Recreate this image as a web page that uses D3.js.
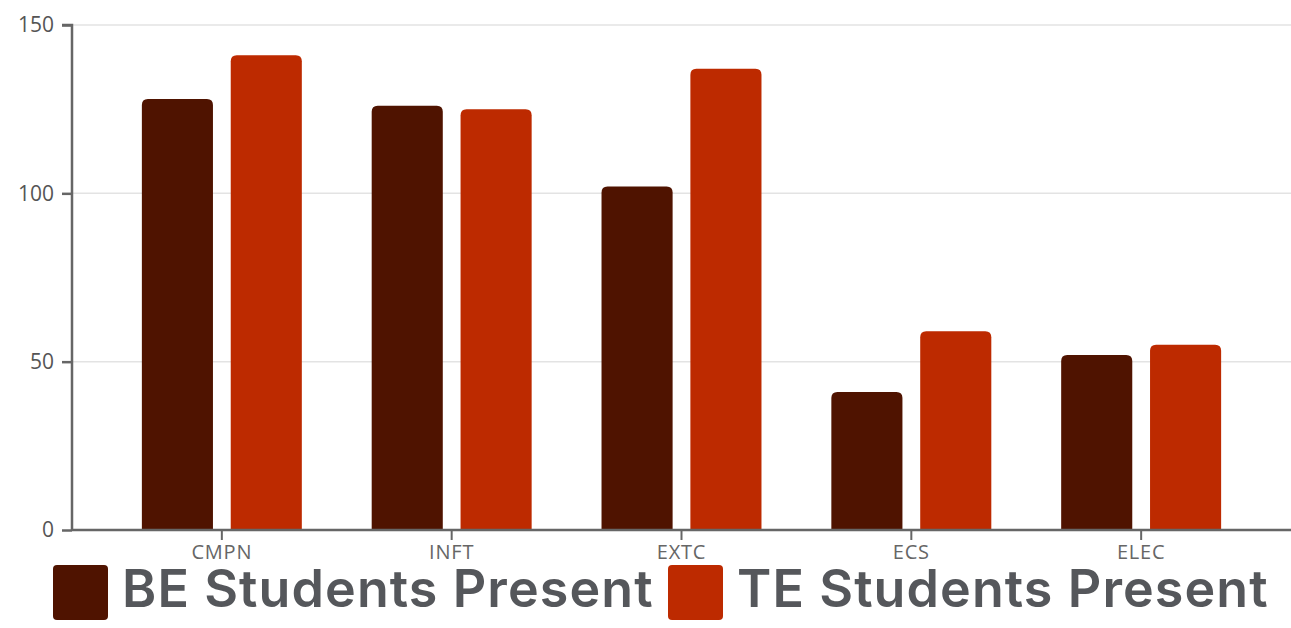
<!DOCTYPE html>
<html>
<head>
<meta charset="utf-8">
<script src="https://cdn.jsdelivr.net/npm/d3@7"></script>
<style>
  body { margin: 0; background: #fff; }
  svg { display: block; }
</style>
</head>
<body>
<div class="container"></div>
<script>
const categories = ["CMPN", "INFT", "EXTC", "ECS", "ELEC"];
const beValues = [128, 126, 102, 41, 52];
const teValues = [141, 125, 137, 59, 55];
const seriesNames = ["BE Students Present", "TE Students Present"];
const seriesColors = ["#4f1300", "#bd2a00"];
const yTicks = [0, 50, 100, 150];

const w = 1291;
const h = 628;

const svg = d3.select(".container")
  .append("svg")
  .attr("width", w)
  .attr("height", h);

const x = d3.scaleBand()
  .domain(categories)
  .range([72, 1291])
  .padding(0.304);

const xs = d3.scaleBand()
  .domain([0, 1])
  .range([0, x.bandwidth()])
  .paddingInner(0.2);

const y = d3.scaleLinear()
  .domain([0, 150])
  .range([530, 25]);

// gridlines
svg.append("g")
  .selectAll("line")
  .data(yTicks.filter(d => d > 0))
  .enter()
  .append("line")
  .attr("x1", 72)
  .attr("x2", w)
  .attr("y1", d => y(d))
  .attr("y2", d => y(d))
  .attr("stroke", "#e3e3e3")
  .attr("stroke-width", 1.5);

// bars with rounded tops
function topRounded(x0, y0, bw, bh, r) {
  r = Math.min(r, bh);
  return `M${x0},${y0 + bh}V${y0 + r}Q${x0},${y0} ${x0 + r},${y0}` +
    `H${x0 + bw - r}Q${x0 + bw},${y0} ${x0 + bw},${y0 + r}V${y0 + bh}Z`;
}

const rows = categories.map((c, i) => ({ cat: c, vals: [beValues[i], teValues[i]] }));

const groups = svg.append("g")
  .selectAll("g")
  .data(rows)
  .enter()
  .append("g")
  .attr("transform", d => `translate(${x(d.cat)},0)`);

groups.selectAll("path")
  .data(d => d.vals.map((v, k) => ({ k, v })))
  .enter()
  .append("path")
  .attr("d", d => topRounded(xs(d.k), y(d.v), xs.bandwidth(), y(0) - y(d.v), 6))
  .attr("fill", d => seriesColors[d.k]);

// y axis
const yAxis = svg.append("g")
  .attr("transform", "translate(72,0)")
  .call(d3.axisLeft(y).tickValues(yTicks).tickSize(10).tickPadding(8).tickFormat(d3.format("d")));
yAxis.select(".domain").attr("stroke", "#666").attr("stroke-width", 2.5).attr("d", "M-10,25H0V530");
yAxis.selectAll(".tick line").attr("stroke", "#666").attr("stroke-width", 2.5);
yAxis.selectAll(".tick text")
  .attr("fill", "#555")
  .style("font-family", "'Open Sans', sans-serif")
  .style("font-size", "21px");

// x axis
const xAxis = svg.append("g")
  .attr("transform", "translate(0,530)")
  .call(d3.axisBottom(x).tickSize(10).tickPadding(5));
xAxis.select(".domain").attr("stroke", "#666").attr("stroke-width", 2.5).attr("d", "M72,0H1291");
xAxis.selectAll(".tick line").attr("stroke", "#666").attr("stroke-width", 2);
xAxis.selectAll(".tick text")
  .attr("fill", "#666")
  .style("font-family", "'Open Sans', sans-serif")
  .style("font-size", "20px")
  .style("letter-spacing", "0.8px");

// legend
const legendX = [53, 668];
const legend = svg.append("g")
  .selectAll("g")
  .data(seriesNames)
  .enter()
  .append("g")
  .attr("transform", (d, i) => `translate(${legendX[i]},565)`);

legend.append("rect")
  .attr("width", 55)
  .attr("height", 55)
  .attr("rx", 4)
  .attr("fill", (d, i) => seriesColors[i]);

legend.append("text")
  .attr("x", 69)
  .attr("y", 42)
  .attr("fill", "#55575b")
  .style("font-family", "Inter, sans-serif")
  .style("font-weight", 600)
  .style("font-size", "52px")
  .style("letter-spacing", "1.1px")
  .text(d => d);
</script>
</body>
</html>
